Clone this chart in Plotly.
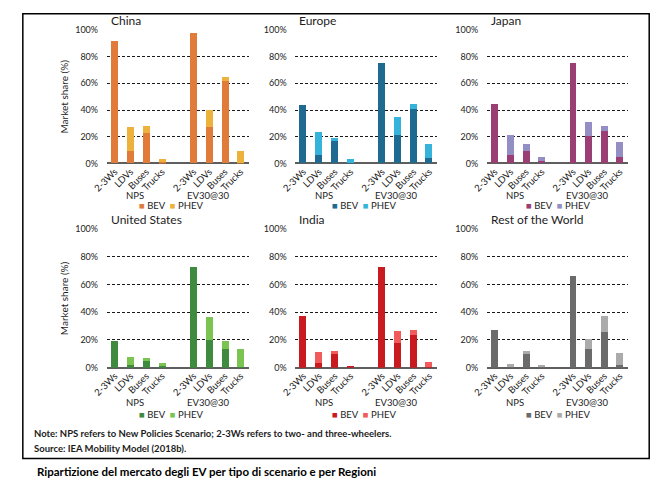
import plotly.graph_objects as go

W, H = 658, 490

categories = ["2-3Ws", "LDVs", "Buses", "Trucks"]
scenarios = ["NPS", "EV30@30"]
regions = ["China", "Europe", "Japan", "United States", "India", "Rest of the World"]
series_names = ["BEV", "PHEV"]

# values in % : NPS (2-3Ws, LDVs, Buses, Trucks) then EV30@30 (same order)
china_bev = [92, 9, 22.5, 1, 98, 27, 62, 0.5]
china_phev = [0, 18, 5.5, 2, 0, 13, 3, 8.7]
europe_bev = [44, 6, 17, 0.3, 75, 21, 40.5, 4]
europe_phev = [0, 17.5, 1.8, 2.7, 0, 14, 4, 10.2]
japan_bev = [44.5, 6, 9, 1.5, 75.5, 20.5, 24, 5]
japan_phev = [0, 15, 5.7, 3.4, 0, 10.3, 4, 11.4]
us_bev = [19, 2, 4.7, 1.2, 72.5, 20, 13.5, 0.5]
us_phev = [0, 5.8, 2.6, 2.1, 0, 16.8, 6, 13]
india_bev = [37.5, 3.3, 10, 1, 72.3, 18, 24, 0.3]
india_phev = [0, 8.2, 2.4, 0, 0, 8.2, 3, 4.2]
row_bev = [27, 0.6, 10, 0.3, 66.5, 13.4, 26, 2.3]
row_phev = [0, 2.4, 2.2, 1.6, 0, 7.5, 11.3, 8.3]

bev_values = [china_bev, europe_bev, japan_bev, us_bev, india_bev, row_bev]
phev_values = [china_phev, europe_phev, japan_phev, us_phev, india_phev, row_phev]

bev_colors = ["#E07B39", "#1F6A91", "#9A3E74", "#3E8A3F", "#C81A1F", "#6B6B6B"]
phev_colors = ["#EDB23B", "#35B3DA", "#938FC4", "#7CC452", "#F15B5B", "#ABABAB"]

y_ticks = [0, 20, 40, 60, 80, 100]
y_ticktext = [f"{v}%" for v in y_ticks]

note_text = "Note: NPS refers to New Policies Scenario; 2-3Ws refers to two- and three-wheelers."
source_text = "Source: IEA Mobility Model (2018b)."
caption_text = "Ripartizione del mercato degli EV per tipo di scenario e per Regioni"

# ---------- layout geometry (pixels) ----------
cols_px = [(94, 239), (287, 432), (483, 627)]
rows_px = [(24.5, 161), (228, 370)]
group_label_y = [194, 406]
legend_y = [204, 418]
legend_cx = [160, 357, 556]

FONT = "Lato, 'Open Sans', sans-serif"
TXT = "#1c1c1c"


def px_x(p):
    return p / W


def px_y(p):
    return 1 - p / H


# slot positions: 4 NPS bars, gap, 4 EV30@30 bars
slot_x = list(range(len(categories))) + [len(categories) + 1 + i for i in range(len(categories))]
tick_text = categories + categories

fig = go.Figure()
layout = dict(
    width=W, height=H, margin=dict(l=0, r=0, t=0, b=0),
    paper_bgcolor="white", plot_bgcolor="white",
    barmode="stack", bargap=0, showlegend=False,
    font=dict(family=FONT, color=TXT),
)
annotations = []

for k, region in enumerate(regions):
    r, c = divmod(k, 3)
    n = k + 1
    xa = "x" if n == 1 else f"x{n}"
    ya = "y" if n == 1 else f"y{n}"
    xkey = "xaxis" if n == 1 else f"xaxis{n}"
    ykey = "yaxis" if n == 1 else f"yaxis{n}"
    x0, x1 = cols_px[c]
    y0, y1 = rows_px[r]

    fig.add_trace(go.Bar(x=slot_x, y=bev_values[k], name=series_names[0], width=0.44,
                         marker=dict(color=bev_colors[k], line=dict(width=0)),
                         xaxis=xa, yaxis=ya))
    fig.add_trace(go.Bar(x=slot_x, y=phev_values[k], name=series_names[1], width=0.44,
                         marker=dict(color=phev_colors[k], line=dict(width=0)),
                         xaxis=xa, yaxis=ya))

    layout[xkey] = dict(
        domain=[px_x(x0), px_x(x1)], anchor=ya, range=[-0.5, 8.5],
        tickmode="array", tickvals=slot_x, ticktext=tick_text, tickangle=-45,
        tickfont=dict(size=9.5, family=FONT, color=TXT), showgrid=False, zeroline=False,
        showline=False, ticks="", fixedrange=True,
    )
    layout[ykey] = dict(
        domain=[px_y(y1), px_y(y0)], anchor=xa, range=[0, 100],
        tickmode="array", tickvals=y_ticks, ticktext=y_ticktext,
        tickfont=dict(size=9, family=FONT, color=TXT),
        showgrid=True, gridcolor="#1a1a1a", gridwidth=1, griddash="3px,2px",
        zeroline=True, zerolinecolor="#5e5e5e", zerolinewidth=1.6,
        showline=False, ticks="outside", ticklen=6, tickcolor="rgba(0,0,0,0)",
        fixedrange=True,
    )

    # panel title
    annotations.append(dict(text=region, xref="paper", yref="paper",
                            x=px_x(x0 + 2), y=px_y(rows_px[r][0] - 9.5),
                            xanchor="left", yanchor="middle", showarrow=False,
                            font=dict(size=12, family=FONT, color=TXT)))
    # scenario group labels
    for s, gx in zip(scenarios, [1.3, 5.9]):
        annotations.append(dict(text=s, xref=xa, yref="paper", x=gx,
                                y=px_y(group_label_y[r]), xanchor="center", yanchor="middle",
                                showarrow=False, font=dict(size=9.5, family=FONT, color=TXT)))
    # legend
    leg = (f"<span style='color:{bev_colors[k]}'>■</span> {series_names[0]}  "
           f"<span style='color:{phev_colors[k]}'>■</span> {series_names[1]}")
    annotations.append(dict(text=leg, xref="paper", yref="paper",
                            x=px_x(legend_cx[c]), y=px_y(legend_y[r]),
                            xanchor="center", yanchor="middle", showarrow=False,
                            font=dict(size=9.5, family=FONT, color=TXT)))
    # y axis title on first column
    if c == 0:
        annotations.append(dict(text="Market share (%)", xref="paper", yref="paper",
                                x=px_x(50), y=px_y((y0 + y1) / 2), textangle=-90,
                                xanchor="center", yanchor="middle", showarrow=False,
                                font=dict(size=10, family=FONT, color=TXT)))

annotations.append(dict(text=f"<b>{note_text}</b>", xref="paper", yref="paper",
                        x=px_x(17), y=px_y(437), xanchor="left", yanchor="middle",
                        showarrow=False, font=dict(size=9.5, family=FONT, color=TXT)))
annotations.append(dict(text=f"<b>{source_text}</b>", xref="paper", yref="paper",
                        x=px_x(17), y=px_y(453), xanchor="left", yanchor="middle",
                        showarrow=False, font=dict(size=9.5, family=FONT, color=TXT)))
annotations.append(dict(text=f"<b>{caption_text}</b>", xref="paper", yref="paper",
                        x=px_x(20), y=px_y(476), xanchor="left", yanchor="middle",
                        showarrow=False, font=dict(size=11.5, family=FONT, color="#000000")))

layout["annotations"] = annotations
layout["shapes"] = [dict(type="rect", xref="paper", yref="paper",
                         x0=px_x(8), x1=px_x(649), y0=px_y(463), y1=px_y(8),
                         line=dict(color="#000000", width=1.5), fillcolor="rgba(0,0,0,0)")]

fig.update_layout(**layout)
fig.write_html("out.html")
